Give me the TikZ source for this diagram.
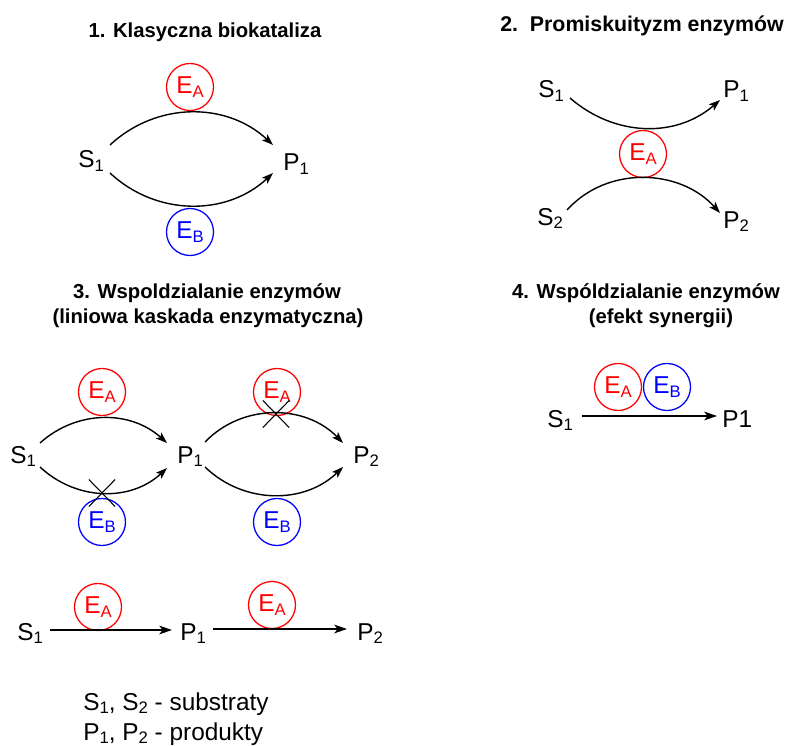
\documentclass[tikz,border=0pt]{standalone}
\usepackage{fontspec}
\setmainfont{Liberation Sans}
\usetikzlibrary{arrows.meta,shapes.misc}
\newcommand{\lsub}[1]{\raisebox{-2.6pt}{\fontsize{12.5}{12.5}\selectfont #1}}
\tikzset{
  sp/.style={anchor=base west, inner sep=0pt, font=\fontsize{18.3}{18.3}\selectfont},
  ttl/.style={anchor=base, inner sep=0pt, font=\bfseries\fontsize{15.2}{15.2}\selectfont},
  enz/.style={circle, draw=#1, text=#1, line width=0.95pt, minimum size=35.25pt, inner sep=0pt, font=\fontsize{18.3}{18.3}\selectfont},
  arcarrow/.style={line width=1.05pt, -{Stealth[length=8.5pt,width=6pt,inset=2pt]}},
  rxn/.style={line width=1.4pt, -{Stealth[length=9.5pt,width=6.5pt,inset=2.4pt]}},
  xmark/.style={cross out, draw, line width=0.8pt, minimum width=19pt, minimum height=19.5pt, inner sep=0pt},
}
\begin{document}
\begin{tikzpicture}[x=0.75pt,y=-0.75pt]
\useasboundingbox (0,0) rectangle (787,745);
\clip (0,0) rectangle (787,745);

% ---------- Panel 1 ----------
\node[ttl] (t1) at (205,38) {1. Klasyczna biokataliza};
\node[sp] (s1a) at (78,168) {S\lsub{1}};
\node[sp] (p1a) at (283,171) {P\lsub{1}};
\node[enz=red] (ea1) at (190,87) {E\lsub{A}};
\node[enz=blue] (eb1) at (190,232) {E\lsub{B}};
\draw[arcarrow] ([shift={(32,-23)}]s1a.base west) to[out=43,in=137] ([shift={(-10,-26)}]p1a.base west);
\draw[arcarrow] ([shift={(32,5)}]s1a.base west) to[out=-43,in=-137] ([shift={(-10,2)}]p1a.base west);

% ---------- Panel 2 ----------
\node[ttl, font=\bfseries\fontsize{16}{16}\selectfont] (t2) at (642,32) {2.~~Promiskuityzm enzymów};
\node[sp] (s1b) at (538,98) {S\lsub{1}};
\node[sp] (p1b) at (723,98) {P\lsub{1}};
\node[sp] (s2b) at (537,225) {S\lsub{2}};
\node[sp] (p2b) at (723,228) {P\lsub{2}};
\node[enz=red] (eab) at (643,154) {E\lsub{A}};
\draw[arcarrow] ([shift={(32,0)}]s1b.base west) to[out=-41,in=-139] ([shift={(-3,2)}]p1b.base west);
\draw[arcarrow] ([shift={(30,-15)}]s2b.base west) to[out=48,in=132] ([shift={(-3,-15)}]p2b.base west);

% ---------- Panel 3 ----------
\node[ttl] (t3a) at (207,298) {3. Wspoldzialanie enzymów};
\node[ttl] (t3b) at (208,323) {(liniowa kaskada enzymatyczna)};
\node[sp] (s1c) at (10,463) {S\lsub{1}};
\node[sp] (p1c) at (177,463) {P\lsub{1}};
\node[sp] (p2c) at (353,463) {P\lsub{2}};
\node[enz=red] (eac1) at (102,392) {E\lsub{A}};
\node[enz=blue] (ebc1) at (102,522) {E\lsub{B}};
\node[enz=red] (eac2) at (277,392) {E\lsub{A}};
\node[enz=blue] (ebc2) at (277,522) {E\lsub{B}};
\draw[arcarrow] ([shift={(30,-20)}]s1c.base west) to[out=42,in=138] ([shift={(-10,-20)}]p1c.base west);
\draw[arcarrow] ([shift={(30,4)}]s1c.base west) to[out=-43,in=-137] ([shift={(-10,5)}]p1c.base west);
\draw[arcarrow] ([shift={(28,-21)}]p1c.base west) to[out=46,in=134] ([shift={(-10,-20)}]p2c.base west);
\draw[arcarrow] ([shift={(28,4)}]p1c.base west) to[out=-44,in=-136] ([shift={(-10,4)}]p2c.base west);
\node[xmark] (x1) at (102,493) {};
\node[xmark] (x2) at (276,414) {};

% linear cascade
\node[sp] (s1d) at (17,640) {S\lsub{1}};
\node[sp] (p1d) at (180,640) {P\lsub{1}};
\node[sp] (p2d) at (357,640) {P\lsub{2}};
\node[enz=red] (ead1) at (98,607) {E\lsub{A}};
\node[enz=red] (ead2) at (272,605) {E\lsub{A}};
\draw[rxn] ([shift={(33,-10)}]s1d.base west) -- ([shift={(-8,-10)}]p1d.base west);
\draw[rxn] ([shift={(33,-11)}]p1d.base west) -- ([shift={(-10,-11)}]p2d.base west);

% legend
\node[sp] (lg1) at (83,710) {S\lsub{1}, S\lsub{2} - substraty};
\node[sp] (lg2) at (83,740) {P\lsub{1}, P\lsub{2} - produkty};

% ---------- Panel 4 ----------
\node[ttl] (t4a) at (646,298) {4. Wspóldzialanie enzymów};
\node[ttl] (t4b) at (661,323) {(efekt synergii)};
\node[sp] (s1e) at (547,427) {S\lsub{1}};
\node[sp] (p1e) at (722,427) {P1};
\node[enz=red] (eae) at (618,387) {E\lsub{A}};
\node[enz=blue] (ebe) at (667,387) {E\lsub{B}};
\draw[rxn] ([shift={(35,-11)}]s1e.base west) -- ([shift={(-5,-11)}]p1e.base west);
\end{tikzpicture}
\end{document}
